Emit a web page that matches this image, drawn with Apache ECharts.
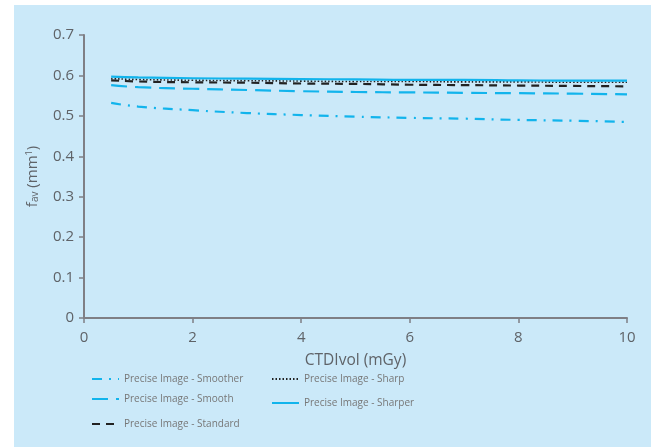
<!DOCTYPE html>
<html>
<head>
<meta charset="utf-8">
<script src="https://cdn.jsdelivr.net/npm/echarts@6/dist/echarts.min.js"></script>
<style>
html,body{margin:0;padding:0;background:#fff;}
#dataView{width:651px;height:447px;}
</style>
</head>
<body>
<div id="dataView"></div>
<script>
// 数据
var xDose = [0.5, 1, 2, 3, 4, 5, 6, 7, 8, 9, 10];
var smoother = [0.532, 0.523, 0.514, 0.507, 0.502, 0.498, 0.495, 0.493, 0.490, 0.488, 0.485];
var smooth = [0.576, 0.571, 0.567, 0.564, 0.561, 0.559, 0.558, 0.557, 0.556, 0.555, 0.553];
var standard = [0.588, 0.585, 0.583, 0.582, 0.580, 0.579, 0.577, 0.576, 0.575, 0.574, 0.573];
var sharp = [0.592, 0.590, 0.588, 0.587, 0.586, 0.585, 0.585, 0.584, 0.584, 0.583, 0.583];
var sharper = [0.597, 0.595, 0.593, 0.592, 0.591, 0.590, 0.589, 0.589, 0.588, 0.587, 0.587];
var seriesNames = ['Precise Image - Smoother', 'Precise Image - Smooth', 'Precise Image - Standard',
	'Precise Image - Sharp', 'Precise Image - Sharper'];

function pairs(ys){
	return xDose.map(function(x, i){ return [x, ys[i]]; });
}

var blue = '#12b4ec';
var dark = '#222222';
var txt = '#5f6368';

function mkLegend(name, left, top){
	return {
		data: [name],
		left: left,
		top: top,
		itemWidth: 27,
		itemHeight: 8,
		itemGap: 4,
		itemStyle: {opacity: 0},
		textStyle: {color: '#777', fontSize: 10, fontFamily: 'Open Sans'},
		inactiveColor: '#777'
	};
}

function mkSeries(name, ys, color, type, width){
	return {
		name: name,
		type: 'line',
		data: pairs(ys),
		showSymbol: false,
		symbol: 'none',
		smooth: true,
		color: color,
		lineStyle: {color: color, width: width, type: type}
	};
}

var dataViewcharts = echarts.init(document.getElementById('dataView'));
var dataViewoption = {
	backgroundColor: '#ffffff',
	animation: false,
	graphic: [{
		type: 'rect',
		z: -10,
		shape: {x: 14, y: 5, width: 637, height: 442},
		style: {fill: '#cbe9f9'}
	}],
	grid: {left: 84, right: 24, top: 35, bottom: 129},
	legend: [
		mkLegend(seriesNames[0], 86, 369),
		mkLegend(seriesNames[1], 86, 389),
		mkLegend(seriesNames[2], 86, 414),
		mkLegend(seriesNames[3], 266, 369),
		mkLegend(seriesNames[4], 266, 393)
	],
	xAxis: {
		type: 'value',
		min: 0,
		max: 10,
		interval: 2,
		name: 'CTDIvol (mGy)',
		nameLocation: 'middle',
		nameGap: 35,
		nameTextStyle: {color: txt, fontSize: 15.5, fontFamily: 'Open Sans'},
		axisLine: {lineStyle: {color: '#7f7f85', width: 2}},
		axisTick: {show: true, length: 5, lineStyle: {color: '#7f7f85', width: 1.5}},
		axisLabel: {color: txt, fontSize: 15, fontFamily: 'Open Sans', margin: 12},
		splitLine: {show: false}
	},
	yAxis: {
		type: 'value',
		min: 0,
		max: 0.7,
		interval: 0.1,
		name: '{n|f}{s|av}{n| (mm}{p|1}{n|)}',
		nameLocation: 'middle',
		nameGap: 44,
		nameRotate: 90,
		nameTextStyle: {
			color: txt,
			rich: {
				n: {fontSize: 15, color: txt, fontFamily: 'Open Sans'},
				s: {fontSize: 10, color: txt, fontFamily: 'Open Sans', verticalAlign: 'bottom'},
				p: {fontSize: 9, color: txt, fontFamily: 'Open Sans', verticalAlign: 'top'}
			}
		},
		axisLine: {show: true, lineStyle: {color: '#7f7f85', width: 2}},
		axisTick: {show: true, inside: false, length: 5, lineStyle: {color: '#7f7f85', width: 1.5}},
		axisLabel: {color: txt, fontSize: 15, fontFamily: 'Open Sans', margin: 10,
			formatter: function(v){ return v === 0 ? '0' : v.toFixed(1); }},
		splitLine: {show: false}
	},
	series: [
		mkSeries(seriesNames[0], smoother, blue, [10, 7, 2, 7], 2.2),
		mkSeries(seriesNames[1], smooth, blue, [16, 8], 2.2),
		mkSeries(seriesNames[2], standard, dark, [8, 6], 2.2),
		mkSeries(seriesNames[3], sharp, dark, [1.5, 2], 1.6),
		mkSeries(seriesNames[4], sharper, blue, 'solid', 2.2)
	]
};
dataViewcharts.setOption(dataViewoption);
</script>
</body>
</html>
